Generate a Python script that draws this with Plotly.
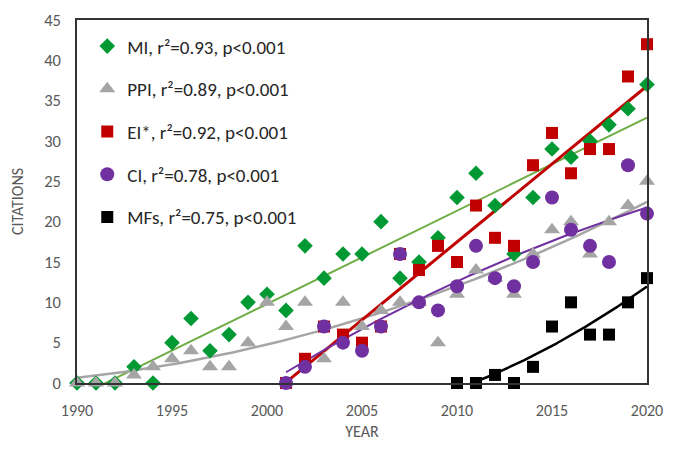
import numpy as np
import plotly.graph_objects as go

years_mi = list(range(1990, 2021))
mi = [0, 0, 0, 2, 0, 5, 8, 4, 6, 10, 11, 9, 17, 13, 16, 16, 20, 13, 15, 18,
      23, 26, 22, 16, 23, 29, 28, 30, 32, 34, 37]
years_ppi = list(range(1990, 2021))
ppi = [0, 0, 0, 1, 2, 3, 4, 2, 2, 5, 10, 7, 10, 3, 10, 7, 9, 10, 10, 5,
       11, 14, 13, 11, 16, 19, 20, 16, 20, 22, 25]
years_ei = list(range(2001, 2021))
ei = [0, 3, 7, 6, 5, 7, 16, 14, 17, 15, 22, 18, 17, 27, 31, 26, 29, 29, 38, 42]
years_ci = list(range(2001, 2021))
ci = [0, 2, 7, 5, 4, 7, 16, 10, 9, 12, 17, 13, 12, 15, 23, 19, 17, 15, 27, 21]
years_mf = list(range(2010, 2021))
mf = [0, 0, 1, 0, 2, 7, 10, 6, 6, 10, 13]

# name, x, y, symbol, marker colour, size, trend colour, trend width, trend degree
series = [
    ("MI, r²=0.93, p<0.001", years_mi, mi, "diamond", "#009933", 12, "#70AD47", 2, 1),
    ("PPI, r²=0.89, p<0.001", years_ppi, ppi, "triangle-up", "#A5A5A5", 14, "#A5A5A5", 2.5, 2),
    ("EI*, r²=0.92, p<0.001", years_ei, ei, "square", "#C00000", 12, "#C00000", 3, 1),
    ("CI, r²=0.78, p<0.001", years_ci, ci, "circle", "#7030A0", 14, "#7030A0", 2, 2),
    ("MFs, r²=0.75, p<0.001", years_mf, mf, "square", "#000000", 12, "#000000", 2.5, 2),
]

fig = go.Figure()
for name, xs, ys, sym, col, sz, lcol, lw, deg in series:
    x = np.array(xs, dtype=float)
    y = np.array(ys, dtype=float)
    c = np.polyfit(x - x[0], y, deg)
    xf = np.linspace(x[0], x[-1], 200)
    yf = np.polyval(c, xf - x[0])
    fig.add_trace(go.Scatter(x=xf, y=yf, mode="lines", line=dict(color=lcol, width=lw),
                             showlegend=False, hoverinfo="skip"))
for i, (name, xs, ys, sym, col, sz, lcol, lw, deg) in enumerate(series):
    fig.add_trace(go.Scatter(x=xs, y=ys, mode="markers", name=name, legendgroup=f"g{i}",
                             marker=dict(symbol=sym, color=col, size=sz, line=dict(width=0)),
                             cliponaxis=False))

font = "Carlito, Lato, 'Open Sans', sans-serif"
gray = "#595959"
fig.update_layout(
    width=657, height=433,
    margin=dict(l=69, r=18, t=12, b=58, autoexpand=False),
    paper_bgcolor="white", plot_bgcolor="white",
    font=dict(family=font, size=16, color=gray),
    showlegend=True,
    legend=dict(x=0.018, y=0.98, xanchor="left", yanchor="top", bgcolor="rgba(0,0,0,0)",
                font=dict(family=font, size=19, color="#262626"), tracegroupgap=15,
                itemwidth=30),
    xaxis=dict(range=[1990, 2020], tickvals=[1990, 1995, 2000, 2005, 2010, 2015, 2020],
               showgrid=False, zeroline=False, showline=True, linecolor="#333333", linewidth=1.5,
               mirror=True, ticks="outside", ticklen=12, tickcolor="rgba(0,0,0,0)",
               ticklabeloverflow="allow",
               title=dict(text="YEAR", font=dict(size=16, color=gray), standoff=10),
               tickfont=dict(size=16, color=gray)),
    yaxis=dict(range=[0, 45], tickvals=list(range(0, 50, 5)),
               showgrid=False, zeroline=False, showline=True, linecolor="#333333", linewidth=1.5,
               mirror=True, ticks="outside", ticklen=11, tickcolor="rgba(0,0,0,0)",
               title=dict(text="CITATIONS", font=dict(size=16, color=gray), standoff=20),
               tickfont=dict(size=16.5, color=gray)),
)
fig.write_html("out.html")
